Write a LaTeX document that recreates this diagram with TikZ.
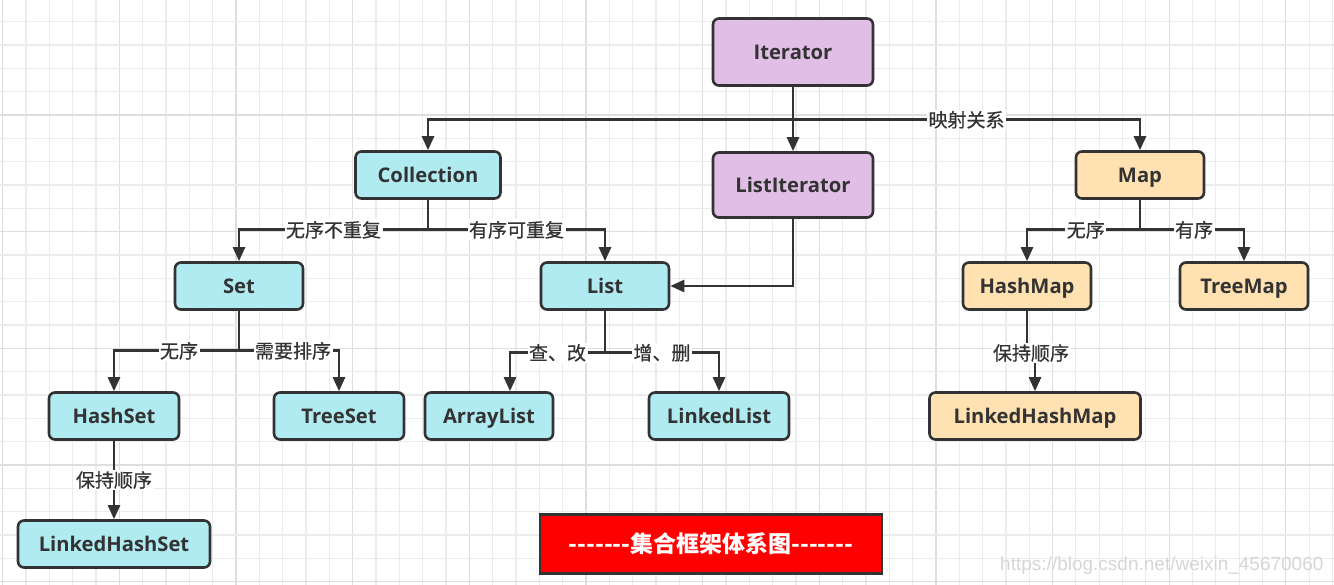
\documentclass[tikz,border=0pt]{standalone}
\usepackage{fontspec}
\setmainfont{Open Sans}
\newfontfamily\zh[Ligatures=TeXOff]{Noto Sans CJK SC}
\newfontfamily\zhlbl[FakeBold=0.6]{Noto Sans CJK SC}
\newfontfamily\marksf{Liberation Sans}
\usetikzlibrary{arrows.meta}
\definecolor{ink}{RGB}{51,51,51}
\definecolor{paleblue}{RGB}{176,235,242}
\definecolor{lilac}{RGB}{225,190,230}
\definecolor{peach}{RGB}{255,225,178}
\definecolor{gridgray}{RGB}{236,236,236}
\definecolor{gridmajor}{RGB}{222,222,222}
\definecolor{titlered}{RGB}{255,0,0}
\tikzset{
  box/.style={draw=ink,line width=2.6pt,rounded corners=6pt,
    minimum height=47pt,inner sep=0pt,text=ink,
    text height=14.4pt,text depth=0pt,
    font=\fontsize{20.2}{23}\selectfont\bfseries},
  collbox/.style={box,fill=paleblue},
  iterbox/.style={box,fill=lilac},
  mapbox/.style={box,fill=peach},
  link/.style={draw=ink,line width=2.6pt,-{Triangle[length=14pt,width=12pt]}},
  lbl/.style={fill=white,text=ink,inner sep=1.5pt,
    font=\zhlbl\fontsize{19}{22}\selectfont},
}
\begin{document}
\begin{tikzpicture}[x=1pt,y=-1pt]
  \fill[white] (0,0) rectangle (1334,585);
  \useasboundingbox (0,0) rectangle (1334,585);
  % grid paper
  \foreach \k in {0,...,57}{
    \pgfmathsetmacro{\gx}{2.7+23.33*\k}
    \pgfmathtruncatemacro{\major}{mod(\k,5)==0}
    \ifnum\major=1
      \draw[gridmajor,line width=1.2pt] (\gx,0) -- (\gx,585);
    \else
      \draw[gridgray,line width=1.2pt] (\gx,0) -- (\gx,585);
    \fi
  }
  \foreach \k in {0,...,26}{
    \pgfmathsetmacro{\gy}{-1.6+23.33*\k}
    \pgfmathtruncatemacro{\major}{mod(\k,5)==0}
    \ifnum\major=1
      \draw[gridmajor,line width=1.2pt] (0,\gy) -- (1334,\gy);
    \else
      \draw[gridgray,line width=1.2pt] (0,\gy) -- (1334,\gy);
    \fi
  }
  \node[anchor=east,text=black!16,font=\marksf\fontsize{19}{22}\selectfont]
    (mark) at (1327,566) {https://blog.csdn.net/weixin\_45670060};

  % boxes
  \node[iterbox,minimum width=160pt,minimum height=67pt] (Iterator) at (793,52) {Iterator};
  \node[iterbox,minimum width=160pt,minimum height=65pt] (ListIterator) at (793,185) {ListIterator};
  \node[collbox,minimum width=145pt] (Collection) at (428,175) {Collection};
  \node[mapbox,minimum width=128pt] (Map) at (1140,175) {Map};
  \node[collbox,minimum width=128pt] (Set) at (239,286) {Set};
  \node[collbox,minimum width=128pt] (List) at (605,286) {List};
  \node[mapbox,minimum width=128pt] (HashMap) at (1027,286) {HashMap};
  \node[mapbox,minimum width=128pt] (TreeMap) at (1244,286) {TreeMap};
  \node[collbox,minimum width=130pt] (HashSet) at (114,416) {HashSet};
  \node[collbox,minimum width=130pt] (TreeSet) at (339,416) {TreeSet};
  \node[collbox,minimum width=128pt] (ArrayList) at (489,416) {ArrayList};
  \node[collbox,minimum width=140pt] (LinkedList) at (719,416) {LinkedList};
  \node[mapbox,minimum width=211pt] (LinkedHashMap) at (1035,416) {LinkedHashMap};
  \node[collbox,minimum width=192pt] (LinkedHashSet) at (114,544) {LinkedHashSet};
  \node[draw=ink,line width=2.6pt,fill=titlered,minimum width=342pt,minimum height=59pt,
    text=white,font=\zh\fontsize{23}{27}\selectfont\bfseries]
    (title) at (711,544) {-------集合框架体系图-------};

  % links
  \draw[link] (Iterator.south) -- (ListIterator.north);
  \draw[link] (Iterator.south) -- ++(0,33) -| (Collection.north);
  \draw[link] (Iterator.south) -- ++(0,33) -| node[lbl,pos=.25]{映射关系} (Map.north);
  \draw[link] (Collection.south) -- ++(0,30) -| node[lbl,pos=.25]{无序不重复} (Set.north);
  \draw[link] (Collection.south) -- ++(0,30) -| node[lbl,pos=.25]{有序可重复} (List.north);
  \draw[link] (ListIterator.south) |- (List.east);
  \draw[link] (Set.south) -- ++(0,40) -| node[lbl,pos=.24]{无序} (HashSet.north);
  \draw[link] (Set.south) -- ++(0,40) -| node[lbl,pos=.27]{需要排序} (TreeSet.north);
  \draw[link] (List.south) -- ++(0,42) -| node[lbl,pos=.25]{查、改} ([xshift=21pt]ArrayList.north);
  \draw[link] (List.south) -- ++(0,42) -| node[lbl,pos=.25]{增、删} (LinkedList.north);
  \draw[link] (Map.south) -- ++(0,30) -| node[lbl,pos=.24]{无序} (HashMap.north);
  \draw[link] (Map.south) -- ++(0,30) -| node[lbl,pos=.26]{有序} (TreeMap.north);
  \draw[link] (HashSet.south) -- node[lbl]{保持顺序} (LinkedHashSet.north);
  \draw[link] (HashMap.south) -- ++(0,43) -| (LinkedHashMap.north);
  \node[lbl] (keep) at (1031,353) {保持顺序};
\end{tikzpicture}
\end{document}
